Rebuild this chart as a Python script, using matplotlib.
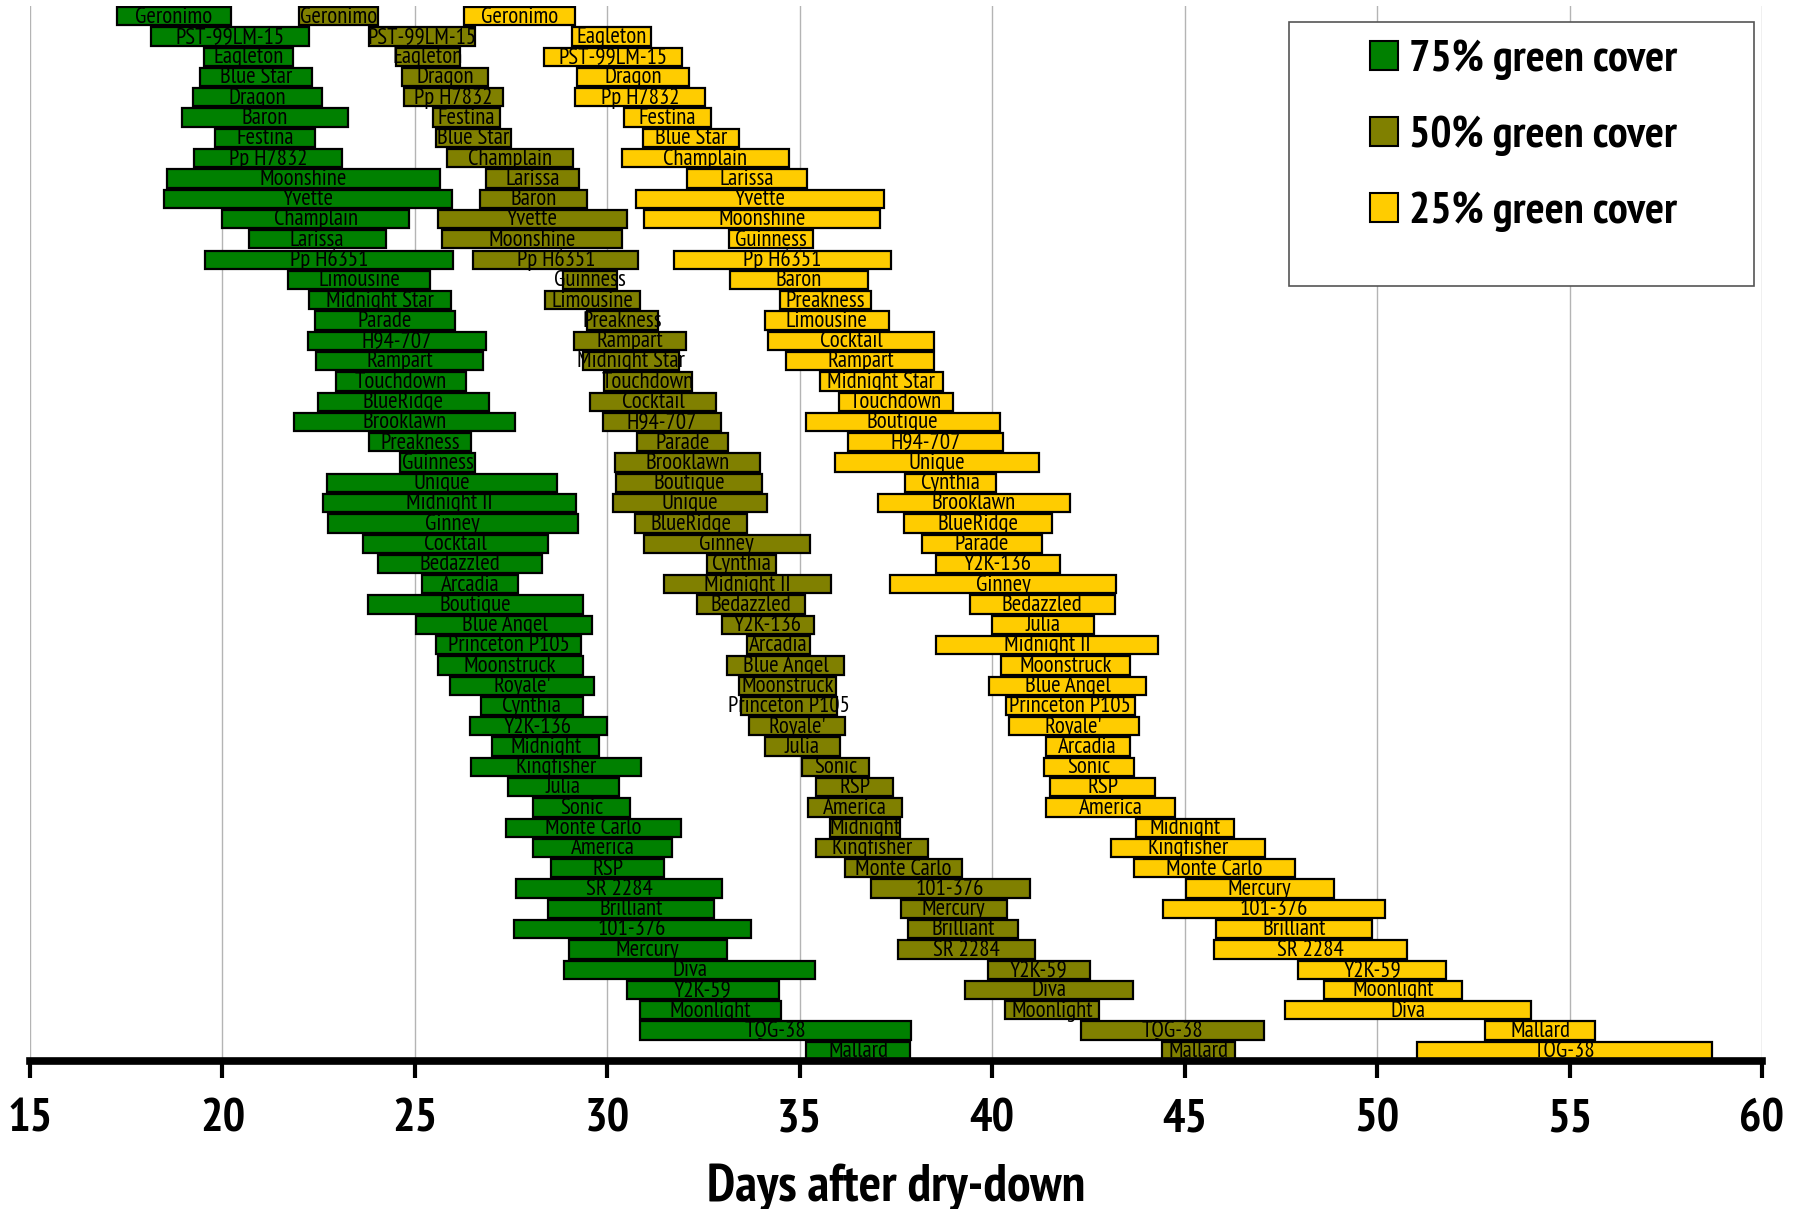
import matplotlib
matplotlib.use('Agg')
import matplotlib.pyplot as plt
from matplotlib.patches import Patch, Rectangle

plt.rcParams['font.family'] = ['PT Sans Narrow', 'Archivo Narrow', 'DejaVu Sans']

# 75% green cover
names75 = ['Geronimo', 'PST-99LM-15', 'Eagleton', 'Blue Star', 'Dragon', 'Baron',
           'Festina', 'Pp H7832', 'Moonshine', 'Yvette', 'Champlain', 'Larissa',
           'Pp H6351', 'Limousine', 'Midnight Star', 'Parade', 'H94-707', 'Rampart',
           'Touchdown', 'BlueRidge', 'Brooklawn', 'Preakness', 'Guinness', 'Unique',
           'Midnight II', 'Ginney', 'Cocktail', 'Bedazzled', 'Arcadia', 'Boutique',
           'Blue Angel', 'Princeton P105', 'Moonstruck', "Royale'", 'Cynthia',
           'Y2K-136', 'Midnight', 'Kingfisher', 'Julia', 'Sonic', 'Monte Carlo',
           'America', 'RSP', 'SR 2284', 'Brilliant', '101-376', 'Mercury', 'Diva',
           'Y2K-59', 'Moonlight', 'TQG-38', 'Mallard']
start75 = [17.26, 18.14, 19.53, 19.41, 19.24, 18.94, 19.81, 19.25, 18.56, 18.49,
           19.99, 20.68, 19.55, 21.71, 22.25, 22.40, 22.21, 22.43, 22.95, 22.47,
           21.86, 23.81, 24.62, 22.71, 22.62, 22.73, 23.66, 24.04, 25.19, 23.77,
           25.04, 25.56, 25.59, 25.91, 26.71, 26.43, 27.01, 26.45, 27.41, 28.06,
           27.36, 28.06, 28.53, 27.62, 28.45, 27.57, 29.00, 28.87, 30.50, 30.84,
           30.84, 35.17]
end75 = [20.22, 22.25, 21.84, 22.32, 22.59, 23.25, 22.40, 23.11, 25.65, 25.97,
         24.85, 24.24, 25.98, 25.39, 25.94, 26.04, 26.84, 26.77, 26.32, 26.93,
         27.61, 26.47, 26.56, 28.70, 29.18, 29.24, 28.45, 28.31, 27.67, 29.37,
         29.61, 29.32, 29.36, 29.66, 29.37, 29.98, 29.79, 30.87, 30.30, 30.60,
         31.91, 31.68, 31.48, 32.98, 32.78, 33.72, 33.10, 35.40, 34.45, 34.51,
         37.90, 37.86]

# 50% green cover
names50 = ['Geronimo', 'PST-99LM-15', 'Eagleton', 'Dragon', 'Pp H7832', 'Festina',
           'Blue Star', 'Champlain', 'Larissa', 'Baron', 'Yvette', 'Moonshine',
           'Pp H6351', 'Guinness', 'Limousine', 'Preakness', 'Rampart',
           'Midnight Star', 'Touchdown', 'Cocktail', 'H94-707', 'Parade',
           'Brooklawn', 'Boutique', 'Unique', 'BlueRidge', 'Ginney', 'Cynthia',
           'Midnight II', 'Bedazzled', 'Y2K-136', 'Arcadia', 'Blue Angel',
           'Moonstruck', 'Princeton P105', "Royale'", 'Julia', 'Sonic', 'RSP',
           'America', 'Midnight', 'Kingfisher', 'Monte Carlo', '101-376', 'Mercury',
           'Brilliant', 'SR 2284', 'Y2K-59', 'Diva', 'Moonlight', 'TQG-38', 'Mallard']
start50 = [21.98, 23.81, 24.51, 24.67, 24.71, 25.48, 25.55, 25.84, 26.86, 26.69,
           25.61, 25.71, 26.52, 28.85, 28.38, 29.46, 29.13, 29.37, 29.92, 29.55,
           29.89, 30.77, 30.19, 30.22, 30.15, 30.71, 30.95, 32.58, 31.47, 32.32,
           32.97, 33.64, 33.12, 33.41, 33.46, 33.68, 34.10, 35.07, 35.43, 35.22,
           35.78, 35.42, 36.17, 36.85, 37.62, 37.80, 37.55, 39.88, 39.30, 40.32,
           42.32, 44.42]
end50 = [24.04, 26.56, 26.17, 26.90, 27.29, 27.21, 27.49, 29.11, 29.26, 29.46,
         30.51, 30.37, 30.80, 30.24, 30.84, 31.32, 32.04, 31.86, 32.19, 32.82,
         32.95, 33.14, 33.96, 34.03, 34.16, 33.63, 35.26, 34.37, 35.80, 35.13,
         35.37, 35.26, 36.14, 35.95, 35.97, 36.18, 36.04, 36.79, 37.42, 37.66,
         37.61, 38.32, 39.21, 40.97, 40.38, 40.68, 41.10, 42.55, 43.67, 42.78,
         47.05, 46.30]

# 25% green cover
names25 = ['Geronimo', 'Eagleton', 'PST-99LM-15', 'Dragon', 'Pp H7832', 'Festina',
           'Blue Star', 'Champlain', 'Larissa', 'Yvette', 'Moonshine', 'Guinness',
           'Pp H6351', 'Baron', 'Preakness', 'Limousine', 'Cocktail', 'Rampart',
           'Midnight Star', 'Touchdown', 'Boutique', 'H94-707', 'Unique', 'Cynthia',
           'Brooklawn', 'BlueRidge', 'Parade', 'Y2K-136', 'Ginney', 'Bedazzled',
           'Julia', 'Midnight II', 'Moonstruck', 'Blue Angel', 'Princeton P105',
           "Royale'", 'Arcadia', 'Sonic', 'RSP', 'America', 'Midnight', 'Kingfisher',
           'Monte Carlo', 'Mercury', '101-376', 'Brilliant', 'SR 2284', 'Y2K-59',
           'Moonlight', 'Diva', 'Mallard', 'TQG-38']
start25 = [26.27, 29.07, 28.35, 29.22, 29.16, 30.44, 30.93, 30.38, 32.06, 30.74,
           30.96, 33.16, 31.73, 33.18, 34.48, 34.09, 34.18, 34.65, 35.52, 36.02,
           35.16, 36.25, 35.91, 37.74, 37.03, 37.71, 38.18, 38.53, 37.34, 39.41,
           40.00, 38.55, 40.22, 39.91, 40.35, 40.43, 41.39, 41.35, 41.51, 41.39,
           43.73, 43.08, 43.68, 45.03, 44.45, 45.82, 45.75, 47.95, 48.63, 47.62,
           52.80, 51.04]
end25 = [29.16, 31.13, 31.93, 32.13, 32.53, 32.69, 33.42, 34.71, 35.20, 37.19,
         37.09, 35.35, 37.36, 36.76, 36.84, 37.32, 38.50, 38.50, 38.72, 38.98,
         40.19, 40.28, 41.21, 40.11, 42.02, 41.55, 41.29, 41.75, 43.22, 43.18,
         42.64, 44.32, 43.58, 44.00, 43.71, 43.81, 43.57, 43.69, 44.24, 44.75,
         46.27, 47.10, 47.88, 48.87, 50.20, 49.86, 50.79, 51.80, 52.21, 54.00,
         55.67, 58.69]

series = [
    ('75% green cover', '#008000', names75, start75, end75),
    ('50% green cover', '#808000', names50, start50, end50),
    ('25% green cover', '#FFCC00', names25, start25, end25),
]

fig = plt.figure(figsize=(17.99, 12.09), dpi=100)
ax = fig.add_axes([0.0167, 0.1224, 0.9627, 0.8726])

for label, color, names, s, e in series:
    rows = list(range(len(names)))
    widths = [b - a for a, b in zip(s, e)]
    ax.barh(rows, widths, left=s, height=0.9, color=color,
            edgecolor='black', linewidth=1.6, zorder=2)
    for r, n, a, b in zip(rows, names, s, e):
        ax.text((a + b) / 2, r + 0.04, n, ha='center', va='center',
                fontsize=16.5, color='black', zorder=3)

ax.set_xlim(15, 60)
ax.set_ylim(51.5, -0.5)
ax.set_xticks(range(15, 61, 5))
ax.set_yticks([])
ax.grid(axis='x', color='#b4b4b4', linewidth=1)
ax.set_axisbelow(True)
for side in ['left', 'right', 'top']:
    ax.spines[side].set_visible(False)
ax.spines['bottom'].set_linewidth(5.5)
ax.spines['bottom'].set_capstyle('projecting')
ax.tick_params(axis='x', direction='out', length=12, width=3, pad=15,
               labelsize=34)
for t in ax.get_xticklabels():
    t.set_fontweight('bold')

fig.text(0.4983, 1 - 1201 / 1209, 'Days after dry-down', ha='center',
         va='baseline', fontsize=38, fontweight='bold')

# legend box
fig.patches.append(Rectangle((0.7165, 0.7634), 0.2585, 0.2184,
                             transform=fig.transFigure, facecolor='white',
                             edgecolor='#555555', linewidth=1.2, zorder=5))
handles = [Patch(facecolor=c, edgecolor='black', linewidth=1.5)
           for _, c, _, _, _ in series]
leg = fig.legend(handles, [l for l, _, _, _, _ in series],
                 loc='center', bbox_to_anchor=(1523.5 / 1799, 1 - 136 / 1209),
                 frameon=False, handlelength=0.62, handleheight=0.62,
                 handletextpad=0.25, labelspacing=0.8,
                 prop={'size': 32, 'weight': 'bold'})
leg.set_zorder(6)

fig.savefig('out.png', dpi=100)
